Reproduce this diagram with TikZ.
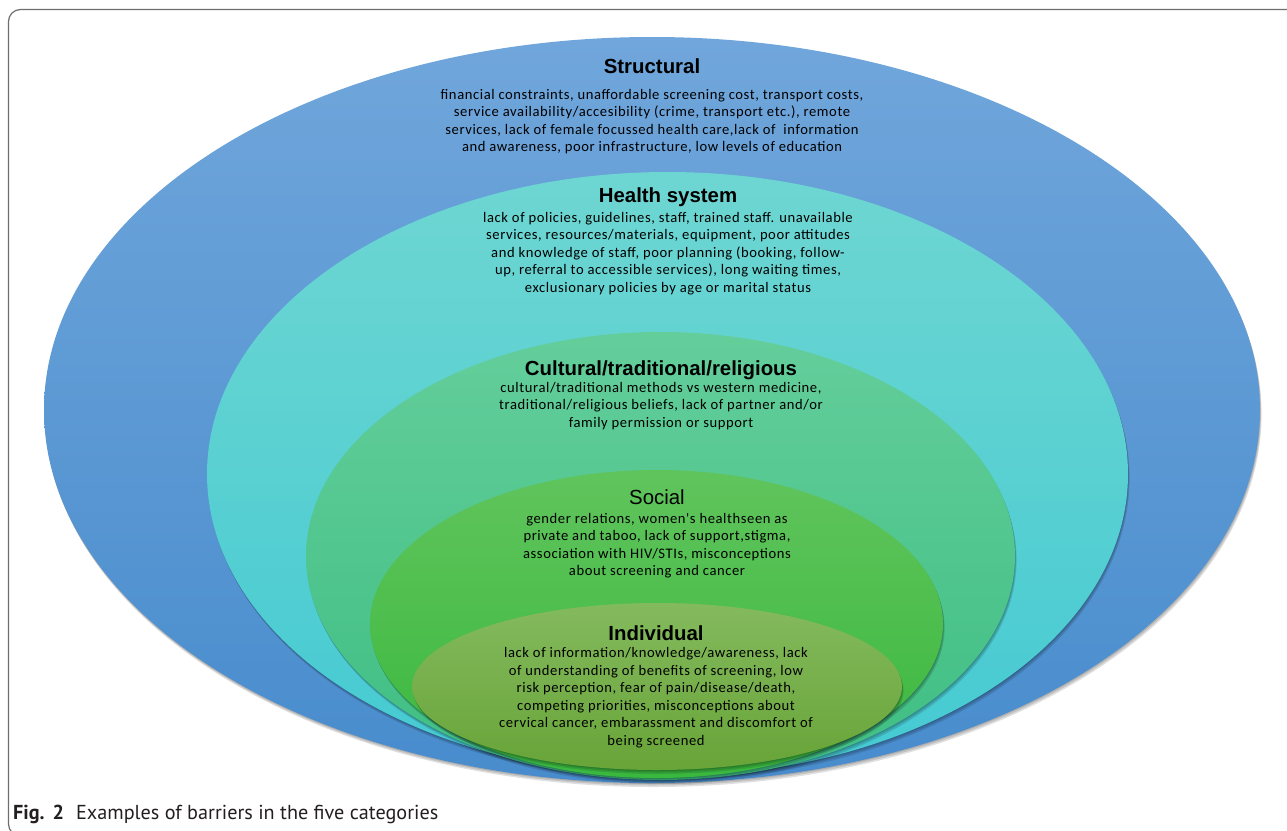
\documentclass[tikz,border=0pt]{standalone}
\usepackage{fontspec}
\setmainfont{Carlito}
\newfontfamily\bodyf{Carlito}[LetterSpace=4]
\newfontfamily\arialf{Liberation Sans}
\newfontfamily\capf{PT Sans}
\definecolor{framegray}{RGB}{110,110,110}
\definecolor{blueT}{RGB}{112,166,219}
\definecolor{blueB}{RGB}{72,140,205}
\definecolor{tealT}{RGB}{110,214,210}
\definecolor{tealB}{RGB}{68,202,210}
\definecolor{cultT}{RGB}{100,206,155}
\definecolor{cultB}{RGB}{62,190,130}
\definecolor{socT}{RGB}{96,196,92}
\definecolor{socB}{RGB}{58,184,62}
\definecolor{indT}{RGB}{132,186,94}
\definecolor{indB}{RGB}{104,164,56}
\definecolor{captext}{RGB}{35,31,32}
\newcommand\ringlayer[6]{%
  \foreach \s/\o in {1/.12,2.5/.12,4/.12}{%
    \fill[black,opacity=\o] (#1+0.4*\s,#2+\s) ellipse [x radius=#3pt, y radius=#4pt];}
  \shade[top color=#5,bottom color=#6] (#1,#2) ellipse [x radius=#3pt, y radius=#4pt];}
\begin{document}
\begin{tikzpicture}[x=1pt,y=-1pt,
  title/.style={font=\arialf\bfseries\fontsize{20.4}{24}\selectfont, inner sep=0pt, anchor=base, text=black},
  titlereg/.style={font=\arialf\fontsize{20.4}{24}\selectfont, inner sep=0pt, anchor=base, text=black},
  body/.style={font=\bodyf\fontsize{14.6}{17.5}\selectfont, align=center, inner sep=0pt, anchor=north, text=black},
]
\useasboundingbox (0,0) rectangle (1287,830);
\fill[white] (0,0) rectangle (1287,830);
\draw[framegray, line width=1.2pt, rounded corners=12pt] (8.5,836) -- (8.5,9.5) -- (1300,9.5) -- (1300,836) -- cycle;
% nested ellipses
\ringlayer{652}{410}{608}{373}{blueT}{blueB}
\ringlayer{667.5}{474}{460.5}{302}{tealT}{tealB}
\ringlayer{660.5}{556}{354.5}{224}{cultT}{cultB}
\ringlayer{656.5}{624}{286.5}{154}{socT}{socB}
\ringlayer{657}{686.5}{245}{83.5}{indT}{indB}
% texts
\node[title] (tS) at (652,73.3) {Structural};
\node[body] (bS) at (652,89) {financial constraints, unaffordable screening cost, transport costs,\\ service availability/accesibility (crime, transport etc.), remote\\ services, lack of female focussed health care,lack of \ information\\ and awareness, poor infrastructure, low levels of education};
\node[title] (tH) at (668,202.7) {Health system};
\node[body] (bH) at (668,212) {lack of policies, guidelines, staff, trained staff. unavailable\\ services, resources/materials, equipment, poor attitudes\\ and knowledge of staff, poor planning (booking, follow-\\ up, referral to accessible services), long waiting times,\\ exclusionary policies by age or marital status};
\node[title] (tC) at (661,375) {Cultural/traditional/religious};
\node[body] (bC) at (661,382) {cultural/traditional methods vs western medicine,\\ traditional/religious beliefs, lack of partner and/or\\ family permission or support};
\node[titlereg] (tSo) at (657,504) {Social};
\node[body] (bSo) at (657,513) {gender relations, women's healthseen as\\ private and taboo, lack of support,stigma,\\ association with HIV/STIs, misconceptions\\ about screening and cancer};
\node[title] (tI) at (656,640) {Individual};
\node[body] (bI) at (656,647.5) {lack of information/knowledge/awareness, lack\\ of understanding of benefits of screening, low\\ risk perception, fear of pain/disease/death,\\ competing priorities, misconceptions about\\ cervical cancer, embarassment and discomfort of\\ being screened};
% caption
\node[anchor=base west, inner sep=0pt, text=captext, font=\capf\fontsize{20.2}{22}\selectfont] (cap) at (13,819) {\textbf{Fig.}\hspace{8pt}\textbf{2}\hspace{12pt}Examples of barriers in the five categories};
\end{tikzpicture}
\end{document}
